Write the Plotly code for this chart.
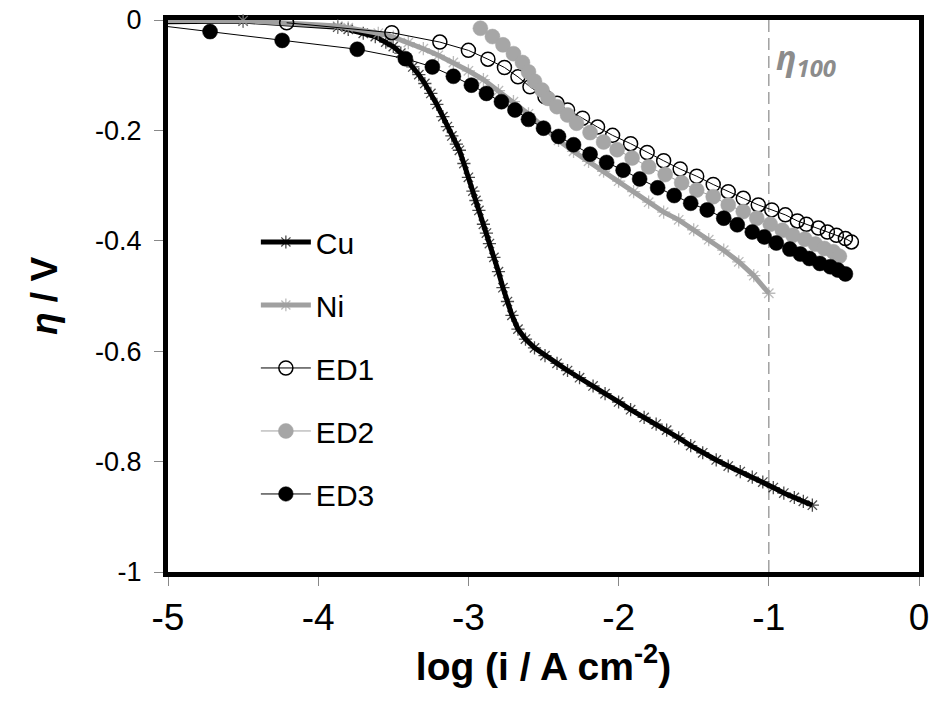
import plotly.graph_objects as go

# ---------------- data ----------------
cu_x = [-5.0, -4.5, -3.87, -3.8, -3.7, -3.62, -3.55, -3.5, -3.45, -3.41, -3.37, -3.33, -3.29,
        -3.25, -3.21, -3.17, -3.14, -3.11, -3.08, -3.06, -3.03, -3.0, -2.97, -2.95, -2.93,
        -2.9, -2.88, -2.86, -2.83, -2.8, -2.77, -2.74, -2.71, -2.67, -2.62, -2.56, -2.49,
        -2.41, -2.34, -2.26, -2.17, -2.09, -2.0, -1.92, -1.83, -1.75, -1.68, -1.6, -1.52,
        -1.44, -1.35, -1.27, -1.19, -1.11, -1.04, -0.97, -0.9, -0.83, -0.77, -0.71]
cu_y = [-0.003, -0.002, -0.013, -0.017, -0.024, -0.03, -0.04, -0.048, -0.06, -0.072, -0.085,
        -0.099, -0.115, -0.133, -0.153, -0.175, -0.193, -0.21, -0.225, -0.236, -0.26, -0.285,
        -0.31, -0.327, -0.345, -0.37, -0.386, -0.405, -0.43, -0.456, -0.485, -0.51, -0.535,
        -0.56, -0.578, -0.594, -0.608, -0.622, -0.635, -0.648, -0.663, -0.677, -0.692, -0.706,
        -0.72, -0.732, -0.743, -0.757, -0.771, -0.784, -0.797, -0.808, -0.818, -0.828, -0.837,
        -0.847, -0.857, -0.865, -0.872, -0.879]

ni_x = [-5.0, -4.5, -3.87, -3.8, -3.6, -3.5, -3.4, -3.3, -3.2, -3.1, -3.0, -2.9, -2.8, -2.7,
        -2.6, -2.5, -2.4, -2.3, -2.2, -2.1, -2.0, -1.9, -1.8, -1.7, -1.6, -1.5, -1.4, -1.3,
        -1.2, -1.1, -1.0]
ni_y = [-0.001, -0.001, -0.011, -0.014, -0.024, -0.031, -0.041, -0.052, -0.064, -0.077,
        -0.092, -0.108, -0.128, -0.148, -0.17, -0.194, -0.218, -0.238, -0.256, -0.274,
        -0.292, -0.311, -0.33, -0.348, -0.362, -0.38, -0.398, -0.417, -0.438, -0.463, -0.495]

ed1_x = [-4.21, -3.51, -3.19, -3.0, -2.87, -2.76, -2.67, -2.59, -2.49, -2.41, -2.34, -2.24,
         -2.14, -2.04, -1.92, -1.81, -1.70, -1.59, -1.48, -1.37, -1.27, -1.17, -1.07, -0.98,
         -0.89, -0.81, -0.75, -0.67, -0.61, -0.55, -0.49, -0.45]
ed1_y = [-0.005, -0.023, -0.04, -0.055, -0.071, -0.086, -0.103, -0.121, -0.139, -0.151,
         -0.163, -0.178, -0.194, -0.209, -0.224, -0.24, -0.255, -0.27, -0.283, -0.298, -0.311,
         -0.323, -0.335, -0.344, -0.353, -0.364, -0.37, -0.377, -0.384, -0.39, -0.396, -0.402]

ed2_x = [-2.92, -2.84, -2.77, -2.70, -2.64, -2.60, -2.56, -2.51, -2.47, -2.41, -2.34, -2.28,
         -2.19, -2.10, -2.01, -1.91, -1.80, -1.69, -1.58, -1.48, -1.37, -1.27, -1.17, -1.08,
         -0.99, -0.91, -0.84, -0.76, -0.69, -0.63, -0.57, -0.53]
ed2_y = [-0.015, -0.03, -0.045, -0.061, -0.077, -0.094, -0.111, -0.127, -0.142, -0.157,
         -0.172, -0.187, -0.204, -0.221, -0.235, -0.25, -0.266, -0.28, -0.295, -0.308, -0.32,
         -0.335, -0.347, -0.359, -0.37, -0.381, -0.39, -0.397, -0.406, -0.414, -0.42, -0.428]

ed3_x = [-5.0, -4.72, -4.24, -3.74, -3.42, -3.24, -3.10, -2.98, -2.88, -2.78, -2.69, -2.60,
         -2.50, -2.40, -2.30, -2.19, -2.08, -1.97, -1.86, -1.74, -1.63, -1.52, -1.41, -1.30,
         -1.21, -1.11, -1.03, -0.95, -0.86, -0.79, -0.73, -0.66, -0.59, -0.54, -0.49]
ed3_y = [-0.012, -0.021, -0.037, -0.053, -0.07, -0.085, -0.102, -0.118, -0.133, -0.148,
         -0.163, -0.18, -0.196, -0.211, -0.226, -0.243, -0.258, -0.272, -0.288, -0.304,
         -0.318, -0.332, -0.344, -0.359, -0.371, -0.384, -0.393, -0.404, -0.415, -0.424,
         -0.432, -0.441, -0.447, -0.453, -0.46]

x_ticks = [-5, -4, -3, -2, -1, 0]
y_ticks = [0, -0.2, -0.4, -0.6, -0.8, -1]
y_tick_text = ["0", "-0.2", "-0.4", "-0.6", "-0.8", "-1"]
eta100_x = -1.0

# ---------------- styles ----------------
BLACK = "#000000"
GRAY = "#a0a0a0"
SANS = "Liberation Sans, Arial, sans-serif"


def sizes(n, s, hide_first=False):
    out = [s] * n
    if hide_first:
        out[0] = 0
    return out


fig = go.Figure()

fig.add_trace(go.Scatter(
    x=cu_x, y=cu_y, name="Cu", mode="lines+markers", legendgroup="cu",
    line=dict(color=BLACK, width=5),
    marker=dict(symbol="asterisk-open", size=sizes(len(cu_x), 11, True), color=BLACK,
                line=dict(color="#1a1a1a", width=1.3)),
    cliponaxis=False))

fig.add_trace(go.Scatter(
    x=ni_x, y=ni_y, name="Ni", mode="lines+markers", legendgroup="ni",
    line=dict(color=GRAY, width=5),
    marker=dict(symbol="asterisk-open", size=sizes(len(ni_x), 11, True), color=GRAY,
                line=dict(color=GRAY, width=1.3)),
    cliponaxis=False))

fig.add_trace(go.Scatter(
    x=ed1_x, y=ed1_y, name="ED1", mode="lines+markers", legendgroup="ed1",
    line=dict(color=BLACK, width=1),
    marker=dict(symbol="circle-open", size=14, color=BLACK,
                line=dict(color=BLACK, width=1.5)),
    cliponaxis=False))

fig.add_trace(go.Scatter(
    x=ed2_x, y=ed2_y, name="ED2", mode="lines+markers", legendgroup="ed2",
    line=dict(color=GRAY, width=1),
    marker=dict(symbol="circle", size=15, color="#a6a6a6", opacity=1,
                line=dict(color="#a6a6a6", width=0.5)),
    cliponaxis=False))

fig.add_trace(go.Scatter(
    x=ed3_x, y=ed3_y, name="ED3", mode="lines+markers", legendgroup="ed3",
    line=dict(color=BLACK, width=1),
    marker=dict(symbol="circle", size=sizes(len(ed3_x), 15, True), color=BLACK, opacity=1,
                line=dict(color=BLACK, width=0.5)),
    cliponaxis=False))

# dashed eta100 line
fig.add_shape(type="line", xref="x", yref="y", x0=eta100_x, x1=eta100_x, y0=0, y1=-1,
              line=dict(color="#a0a0a0", width=1.5, dash="12px,6px"), layer="below")

fig.add_annotation(x=eta100_x, y=-0.07, xref="x", yref="y", xanchor="left", yanchor="middle",
                   xshift=5, showarrow=False,
                   text="<b><i>η<sub>100</sub></i></b>",
                   font=dict(family="Open Sans, Liberation Sans, sans-serif", size=34,
                             color="#8c8c8c"))

fig.update_layout(
    width=929, height=705,
    margin=dict(l=168, r=10, t=20, b=133),
    paper_bgcolor="white", plot_bgcolor="white",
    showlegend=True,
    legend=dict(x=0.117, y=0.645, xanchor="left", yanchor="top",
                bgcolor="rgba(0,0,0,0)", tracegroupgap=21,
                font=dict(family=SANS, size=30, color=BLACK),
                itemwidth=50),
    xaxis=dict(range=[-5, 0], tickvals=x_ticks, ticktext=[str(t) for t in x_ticks],
               showgrid=False, zeroline=False, automargin=False,
               showline=True, linecolor=BLACK, linewidth=5, mirror=True,
               ticks="outside", ticklen=9, tickwidth=1, tickcolor="#888888",
               tickfont=dict(family=SANS, size=37, color=BLACK),
               ticklabelstandoff=0, ticklabeloverflow="allow",
               title=dict(text="<b>log (i / A cm<sup>-2</sup>)</b>",
                          font=dict(family=SANS, size=39, color=BLACK), standoff=12),
               layer="below traces"),
    yaxis=dict(range=[-1, 0], tickvals=y_ticks, ticktext=y_tick_text,
               showgrid=False, zeroline=False, automargin=False,
               showline=True, linecolor=BLACK, linewidth=5, mirror=True,
               ticks="outside", ticklen=9, tickwidth=1, tickcolor="#888888",
               tickfont=dict(family=SANS, size=27, color=BLACK),
               ticklabelstandoff=7, ticklabeloverflow="allow",
               title=dict(text="<b><i>η</i> / V</b>",
                          font=dict(family=SANS, size=37, color=BLACK), standoff=28),
               layer="below traces"),
)

# remove the default page margin so the figure fills the window exactly
fig.write_html("out.html",
               config={"displayModeBar": False},
               post_script="document.body.style.margin='0';document.body.style.padding='0';")
